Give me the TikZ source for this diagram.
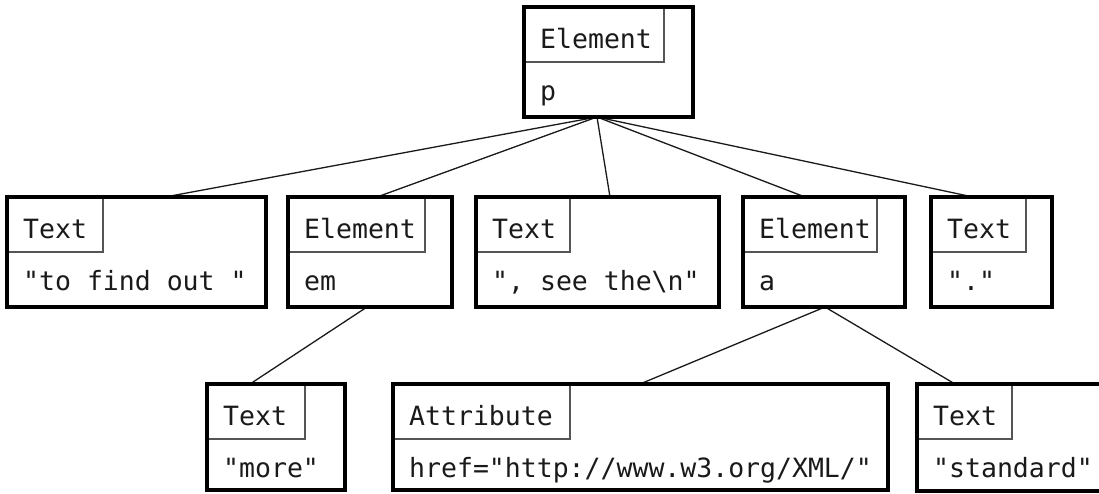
\documentclass[tikz,border=0pt]{standalone}
\usepackage{fontspec}
\setmonofont{DejaVu Sans Mono}
\definecolor{labline}{HTML}{555555}
\definecolor{ink}{HTML}{1A1A1A}
\tikzset{
  boxfill/.style={rectangle, fill=white, inner sep=0pt, outer sep=0pt, anchor=north west},
  boxborder/.style={draw=black, line width=4.5pt},
  labbox/.style={draw=labline, line width=1.3pt},
  txt/.style={font=\ttfamily\fontsize{26.5}{30}\selectfont, text=ink, anchor=base west, inner sep=0pt},
  link/.style={draw=ink, line width=1.3pt}
}
% #1 name, #2 x1, #3 y1, #4 x2, #5 y2, #6 label right, #7 label, #8 value
\newcommand\objbox[8]{%
  \node[boxfill, minimum width={#4-#2}, minimum height={#5-#3}] (#1) at (#2,#3) {};
  \draw[labbox] (#2,#3) rectangle (#6,#3+55);
  \draw[boxborder] (#1.north west) rectangle (#1.south east);
  \node[txt] (#1-l) at (#2+16,#3+41) {#7};
  \node[txt] (#1-v) at (#2+16,#3+93) {#8};
}
\begin{document}
\begin{tikzpicture}[x=1pt,y=-1pt]
  \clip (0,0) rectangle (1099,493);
  \fill[white] (0,0) rectangle (1099,493);
  % attachment points
  \coordinate (p-out) at (597,117);
  \coordinate (t1-in) at (165,197);
  \coordinate (em-in) at (377,197);
  \coordinate (t2-in) at (610,197);
  \coordinate (a-in) at (805,197);
  \coordinate (t3-in) at (973,197);
  \coordinate (em-out) at (367,307);
  \coordinate (t4-in) at (250,384);
  \coordinate (a-out) at (825,307);
  \coordinate (at-in) at (640,384);
  \coordinate (t5-in) at (955,384);
  % connectors
  \draw[link] (p-out) -- (t1-in);
  \draw[link] (p-out) -- (em-in);
  \draw[link] (p-out) -- (t2-in);
  \draw[link] (p-out) -- (a-in);
  \draw[link] (p-out) -- (t3-in);
  \draw[link] (em-out) -- (t4-in);
  \draw[link] (a-out) -- (at-in);
  \draw[link] (a-out) -- (t5-in);
  % boxes
  \objbox{p}{524}{7}{693}{117}{664}{Element}{p}
  \objbox{t1}{7}{197}{266}{307}{103}{Text}{"to find out "}
  \objbox{em}{288}{197}{452}{307}{425}{Element}{em}
  \objbox{t2}{476}{197}{719}{307}{570}{Text}{", see the\textbackslash n"}
  \objbox{a}{743}{197}{905}{307}{877}{Element}{a}
  \objbox{t3}{931}{197}{1052}{307}{1026}{Text}{"."}
  \objbox{t4}{207}{384}{345}{490}{305}{Text}{"more"}
  \objbox{at}{393}{384}{888}{490}{570}{Attribute}{href="http://www.w3.org/XML/"}
  \objbox{t5}{917}{384}{1110}{491}{1012}{Text}{"standard"}
\end{tikzpicture}
\end{document}
